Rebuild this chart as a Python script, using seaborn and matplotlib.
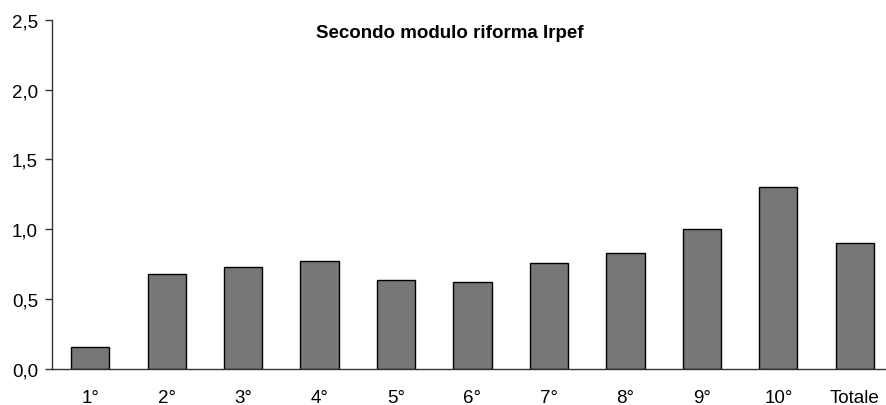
import matplotlib
matplotlib.use('Agg')
import matplotlib.pyplot as plt
import seaborn as sns
import pandas as pd

decili = ["1°", "2°", "3°", "4°", "5°", "6°", "7°", "8°", "9°", "10°", "Totale"]
valori = [0.16, 0.68, 0.73, 0.77, 0.64, 0.62, 0.76, 0.83, 1.00, 1.30, 0.90]
yticks = [0.0, 0.5, 1.0, 1.5, 2.0, 2.5]

sns.set_style('white')
plt.rcParams['font.family'] = ['Liberation Sans', 'DejaVu Sans']
plt.rcParams['text.color'] = 'black'
plt.rcParams['xtick.color'] = 'black'
plt.rcParams['ytick.color'] = 'black'

df = pd.DataFrame({"decile": decili, "valore": valori})

fig = plt.figure(figsize=(8.86, 4.06), dpi=100)
ax = fig.add_axes([52/886, 1 - 370/406, (893 - 52)/886, (370 - 20.7)/406])

sns.barplot(data=df, x="decile", y="valore", color="#777777", width=0.5,
            edgecolor="black", linewidth=1, saturation=1, ax=ax)

ax.set_xlim(-0.5, 10.5)
ax.set_ylim(0, 2.5)
ax.set_yticks(yticks)
ax.set_yticklabels([f"{v:.1f}".replace(".", ",") for v in yticks])
ax.set_xlabel("")
ax.set_ylabel("")
sns.despine(ax=ax)
for s in ("left", "bottom"):
    ax.spines[s].set_color("#333333")
    ax.spines[s].set_linewidth(1)
ax.tick_params(axis='y', left=True, length=5, width=1, color="#333333",
               labelcolor="black", labelsize=13.5, pad=5)
ax.tick_params(axis='x', bottom=False, labelcolor="black", labelsize=13.5, pad=11)

fig.text(450/886, 1 - 34/406, "Secondo modulo riforma Irpef", ha="center",
         va="center", fontsize=13.5, fontweight="bold", color="black")

fig.savefig("out.png", dpi=100)
